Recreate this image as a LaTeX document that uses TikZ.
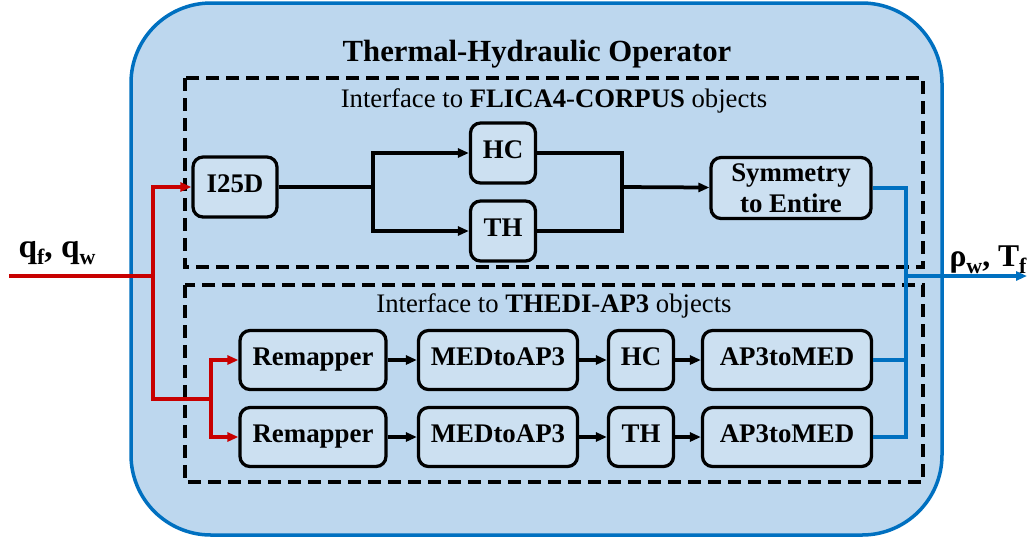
\documentclass[tikz,border=0pt]{standalone}
\usepackage{fontspec}
\setmainfont{Liberation Serif}
\usetikzlibrary{positioning}
\usetikzlibrary{arrows.meta}

\definecolor{opfill}{RGB}{189,215,238}
\definecolor{boxfill}{RGB}{204,224,241}
\definecolor{opblue}{RGB}{0,112,192}
\definecolor{inred}{RGB}{200,0,0}
\newcommand{\lowsub}[1]{\raisebox{-0.45ex}{\fontsize{12.5}{12.5}\selectfont #1}}

\begin{document}
\begin{tikzpicture}[x=0.02cm,y=-0.02cm,
        >={Triangle[length=0.22cm,width=0.18cm]},
        blk/.style={draw,line width=0.065cm,rounded corners=0.2cm,fill=boxfill,
            font=\fontsize{15.3}{17.5}\selectfont\bfseries,align=center,
            inner sep=0pt,minimum height=1.18cm},
        blkone/.style={blk,text height=0.66em,text depth=0pt},
        link/.style={line width=0.075cm},
        dashbox/.style={line width=0.07cm,dash pattern=on 0.26cm off 0.14cm},
        lbl/.style={font=\fontsize{15.2}{17}\selectfont}]
        \useasboundingbox (0,0) rectangle (1029,539);

        \draw[opblue,line width=0.07cm,fill=opfill,rounded corners=1.6cm] (131,3) rectangle (942,535);
        \node[font=\fontsize{17.5}{20}\selectfont\bfseries] (title) at (537,54) {Thermal-Hydraulic Operator};

        \draw[dashbox] (185,78) rectangle (923,267);
        \draw[dashbox] (185,285) rectangle (923,482);
        \node[lbl] (flica) at (554,101) {Interface to \textbf{FLICA4}-\textbf{CORPUS} objects};
        \node[lbl] (thedi) at (554,306) {Interface to \textbf{THEDI}-\textbf{AP3} objects};

        \node[blkone,minimum width=1.68cm,minimum height=1.2cm] (i25d) at (235,187) {I25D};
        \node[blkone,minimum width=1.3cm,minimum height=1.2cm] (hcA) at (503,153) {HC};
        \node[blkone,minimum width=1.3cm,minimum height=1.2cm] (thA) at (503,231) {TH};
        \node[blk,minimum width=3.2cm,minimum height=1.22cm] (sym) at (791,188) {Symmetry\\to Entire};

        \node[blkone,minimum width=2.92cm] (remA) at (313,360) {Remapper};
        \node[blkone,minimum width=3.18cm] (medA) at (498,360) {MEDtoAP3};
        \node[blkone,minimum width=1.3cm] (hcB) at (641,360) {HC};
        \node[blkone,minimum width=3.38cm] (apA) at (787,360) {AP3toMED};
        \node[blkone,minimum width=2.92cm] (remB) at (313,437) {Remapper};
        \node[blkone,minimum width=3.18cm] (medB) at (498,437) {MEDtoAP3};
        \node[blkone,minimum width=1.3cm] (thB) at (641,437) {TH};
        \node[blkone,minimum width=3.38cm] (apB) at (787,437) {AP3toMED};

        \coordinate (in) at (9,276);
        \coordinate (jA) at (153,276);
        \coordinate (jB) at (211,399);
        \coordinate (jC) at (906,276);
        \coordinate (out) at (1027,276);
        \coordinate (jD) at (373,187);
        \coordinate (jE) at (622,187);

        \draw[inred,link] (in) -- (jA);
        \draw[inred,link,->] (jA) |- (i25d);
        \draw[inred,link] (jA) |- (jB);
        \draw[inred,link,->] (jB) |- (remA);
        \draw[inred,link,->] (jB) |- (remB);

        \draw[link] (i25d) -- (jD);
        \draw[link,->] (jD) |- (hcA);
        \draw[link,->] (jD) |- (thA);
        \draw[link] (hcA) -| (jE);
        \draw[link] (thA) -| (jE);
        \draw[link,->] (jE) -- (sym);

        \draw[link,->] (remA) -- (medA);
        \draw[link,->] (medA) -- (hcB);
        \draw[link,->] (hcB) -- (apA);
        \draw[link,->] (remB) -- (medB);
        \draw[link,->] (medB) -- (thB);
        \draw[link,->] (thB) -- (apB);

        \draw[opblue,link] (sym) -| (jC);
        \draw[opblue,link] (apA) -| (jC);
        \draw[opblue,link] (apB) -| (jC);
        \draw[opblue,link,->] (jC) -- (out);

        \node[font=\fontsize{19}{22}\selectfont\bfseries] (qin) at (57,253) {q\lowsub{f}, q\lowsub{w}};
        \node[font=\fontsize{18}{21}\selectfont\bfseries] (rhoout) at (988,260) {ρ\lowsub{w}, T\lowsub{f}};
\end{tikzpicture}
\end{document}
